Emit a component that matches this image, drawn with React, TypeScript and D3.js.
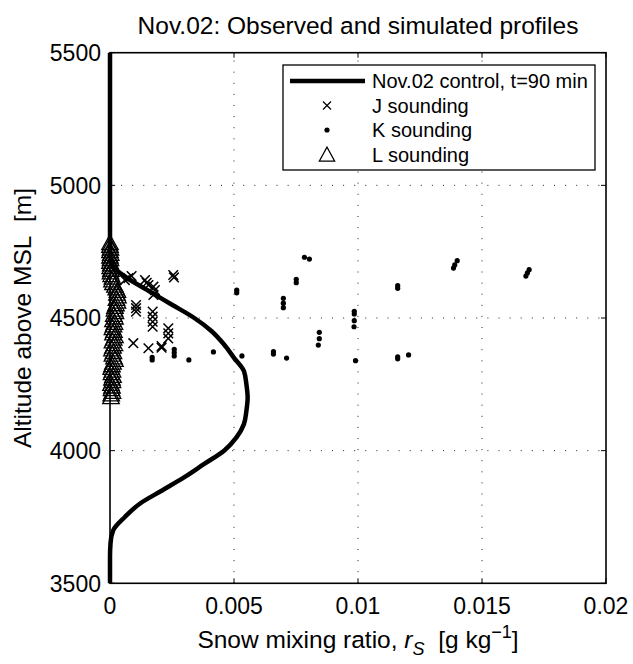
import React from "react";
import * as d3 from "d3";

// ---- data ----
const profileAlt = [3500, 3600, 3650, 3700, 3750, 3800, 3850, 3900, 3950, 4000, 4050, 4100, 4150, 4200, 4250, 4300, 4350, 4400, 4450, 4500, 4550, 4600, 4650, 4700, 4750, 5000, 5500];
const profileVal = [0, 0, 0.00002, 0.00013, 0.0006, 0.0012, 0.0021, 0.003, 0.0038, 0.0046, 0.0051, 0.0054, 0.0055, 0.00555, 0.0055, 0.0054, 0.005, 0.0046, 0.0041, 0.0034, 0.0025, 0.0016, 0.0007, 0.0001, 0, 0, 0];

const jX = [0.00255, 0.00258, 0.00074, 0.00087, 0.0006, 0.00141, 0.00148, 0.00155, 0.00175, 0.00181, 0.00175, 0.00105, 0.00105, 0.00105, 0.00172, 0.00172, 0.00172, 0.00172, 0.00235, 0.00235, 0.00235, 0.00094, 0.00155, 0.00208, 0.00208];
const jAlt = [4662, 4653, 4650, 4658, 4643, 4643, 4633, 4624, 4618, 4605, 4587, 4549, 4537, 4524, 4524, 4505, 4486, 4467, 4461, 4442, 4423, 4405, 4386, 4394, 4388];

const kX = [0.00511, 0.00511, 0.00699, 0.00699, 0.00699, 0.00751, 0.00751, 0.00784, 0.00804, 0.00844, 0.00844, 0.0084, 0.00985, 0.00985, 0.00985, 0.00984, 0.0116, 0.0116, 0.00417, 0.00532, 0.00659, 0.00659, 0.00712, 0.0099, 0.0116, 0.0116, 0.01204, 0.00318, 0.0017, 0.0017, 0.00259, 0.00259, 0.00259, 0.01385, 0.0139, 0.014, 0.01677, 0.01683, 0.0169];
const kAlt = [4595, 4605, 4574, 4556, 4539, 4646, 4633, 4729, 4722, 4446, 4422, 4398, 4525, 4515, 4490, 4467, 4622, 4612, 4372, 4357, 4373, 4364, 4349, 4339, 4354, 4346, 4361, 4342, 4352, 4342, 4382, 4370, 4357, 4688, 4700, 4716, 4658, 4670, 4682];

const lX = [0, 0, 0.00002, 0, 0.00003, 0, 0.00002, 0, 0.00003, 0.00001, 0.00004, 0.00002, 0.00005, 0.0001, 0.00008, 0.00012, 0.0002, 0.00025, 0.0003, 0.00028, 0.00032, 0.00026, 0.0003, 0.00024, 0.0002, 0.00018, 0.00022, 0.00015, 0.0002, 0.00012, 0.00018, 0.00014, 0.0001, 0.00016, 0.00012, 0.0002, 0.00015, 0.0001, 0.00018, 0.00012, 0.00008, 0.00014, 0.0001, 0.00016, 0.0002, 0.00012, 0.00008, 0.00005, 0.0001, 0.00006, 0.00012, 0.00008, 0.0001, 0.00004, 0.00008, 0.00006, 0.0001, 0.00005, 0.00004];
const lAlt = [4780, 4770, 4760, 4750, 4740, 4730, 4720, 4710, 4700, 4690, 4680, 4670, 4660, 4650, 4640, 4630, 4620, 4610, 4600, 4590, 4580, 4570, 4560, 4550, 4540, 4530, 4520, 4510, 4500, 4490, 4480, 4470, 4460, 4450, 4440, 4430, 4420, 4410, 4400, 4390, 4380, 4370, 4360, 4350, 4340, 4330, 4320, 4310, 4300, 4290, 4280, 4270, 4260, 4250, 4240, 4230, 4220, 4210, 4200];

const xTicks = [0, 0.005, 0.01, 0.015, 0.02];
const xTickLabels = ["0", "0.005", "0.01", "0.015", "0.02"];
const yTicks = [3500, 4000, 4500, 5000, 5500];
const yTickLabels = ["3500", "4000", "4500", "5000", "5500"];

const legendLabels = ["Nov.02 control, t=90 min", "J sounding", "K sounding", "L sounding"];
const titleText = "Nov.02: Observed and simulated profiles";

// ---- layout ----
const W = 633, H = 664;
const L = 110, R = 606, T = 52.7, B = 583.3;
const FONT = "'Liberation Sans', Arial, Helvetica, sans-serif";

export default function App() {
  const x = d3.scaleLinear().domain([0, 0.02]).range([L, R]);
  const y = d3.scaleLinear().domain([3500, 5500]).range([B, T]);

  const profile = profileAlt.map((a, i) => [profileVal[i], a] as [number, number]);
  const lineGen = d3.line<[number, number]>()
    .x(d => x(d[0]))
    .y(d => y(d[1]))
    .curve(d3.curveMonotoneY);

  const tri = (cx: number, cy: number, s: number) =>
    `M${cx},${cy - s * 0.6}L${cx + s * 0.55},${cy + s * 0.4}L${cx - s * 0.55},${cy + s * 0.4}Z`;
  const cross = (cx: number, cy: number, s: number) =>
    `M${cx - s},${cy - s}L${cx + s},${cy + s}M${cx - s},${cy + s}L${cx + s},${cy - s}`;

  const tickLen = 5;
  const legendRows = [81, 105.5, 130, 154.5];

  return (
    <div style={{ position: "absolute", left: 0, top: 0 }}>
      <svg width={W} height={H} style={{ display: "block", background: "#fff" }} fontFamily={FONT}>
        <rect x={0} y={0} width={W} height={H} fill="#fff" />
        {/* grid */}
        {xTicks.slice(1, -1).map((t, i) => (
          <line key={"gx" + i} x1={x(t)} x2={x(t)} y1={B} y2={T} stroke="#222" strokeWidth={1} strokeDasharray="1 10.1" />
        ))}
        {yTicks.slice(1, -1).map((t, i) => (
          <line key={"gy" + i} x1={L} x2={R} y1={y(t)} y2={y(t)} stroke="#222" strokeWidth={1} strokeDasharray="1 10.1" />
        ))}
        {/* ticks */}
        {xTicks.map((t, i) => (
          <g key={"tx" + i}>
            <line x1={x(t)} x2={x(t)} y1={B} y2={B - tickLen} stroke="#000" strokeWidth={1} />
            <line x1={x(t)} x2={x(t)} y1={T} y2={T + tickLen} stroke="#000" strokeWidth={1} />
            <text x={x(t)} y={614} textAnchor="middle" fontSize={23} fill="#000">{xTickLabels[i]}</text>
          </g>
        ))}
        {yTicks.map((t, i) => (
          <g key={"ty" + i}>
            <line x1={L} x2={L + tickLen} y1={y(t)} y2={y(t)} stroke="#000" strokeWidth={1} />
            <line x1={R} x2={R - tickLen} y1={y(t)} y2={y(t)} stroke="#000" strokeWidth={1} />
            <text x={101} y={y(t)} dy="0.36em" textAnchor="end" fontSize={23} fill="#000">{yTickLabels[i]}</text>
          </g>
        ))}
        {/* L sounding triangles */}
        {lX.map((v, i) => (
          <path key={"l" + i} d={tri(x(v), y(lAlt[i]), 15)} fill="none" stroke="#000" strokeWidth={1.3} />
        ))}
        {/* J sounding crosses */}
        {jX.map((v, i) => (
          <path key={"j" + i} d={cross(x(v), y(jAlt[i]), 4.8)} fill="none" stroke="#000" strokeWidth={1.5} />
        ))}
        {/* K sounding dots */}
        {kX.map((v, i) => (
          <circle key={"k" + i} cx={x(v)} cy={y(kAlt[i])} r={2.6} fill="#000" />
        ))}
        {/* simulated profile */}
        <path d={lineGen(profile) || ""} fill="none" stroke="#000" strokeWidth={4.5} strokeLinejoin="round" />
        {/* axes box */}
        <rect x={L} y={T} width={R - L} height={B - T} fill="none" stroke="#000" strokeWidth={1.6} />
        {/* legend */}
        <rect x={283} y={65} width={312} height={105} fill="#fff" stroke="#000" strokeWidth={1.3} />
        <line x1={290} x2={365} y1={legendRows[0]} y2={legendRows[0]} stroke="#000" strokeWidth={4.5} />
        <path d={cross(327, legendRows[1], 4)} stroke="#000" strokeWidth={1.2} fill="none" />
        <circle cx={327} cy={legendRows[2]} r={2.6} fill="#000" />
        <path d={tri(327, legendRows[3] + 1, 14)} stroke="#000" strokeWidth={1.2} fill="none" />
        {legendLabels.map((s, i) => (
          <text key={"lg" + i} x={372} y={legendRows[i]} dy="0.36em" fontSize={20} fill="#000">{s}</text>
        ))}
        {/* title */}
        <text x={(L + R) / 2} y={34} textAnchor="middle" fontSize={24.5} fill="#000">{titleText}</text>
        {/* x label */}
        <text x={(L + R) / 2} y={648} textAnchor="middle" fontSize={24.5} fill="#000">
          <tspan>Snow mixing ratio, </tspan>
          <tspan fontStyle="italic">r</tspan>
          <tspan fontStyle="italic" fontSize={18} dy={7}>S</tspan>
          <tspan dy={-7}>{"\u00a0\u00a0[g kg"}</tspan>
          <tspan fontSize={18} dy={-10}>{"\u22121"}</tspan>
          <tspan dy={10}>]</tspan>
        </text>
        {/* y label */}
        <text transform={`translate(31,${(T + B) / 2}) rotate(-90)`} textAnchor="middle" fontSize={24.5} fill="#000">
          {"Altitude above MSL\u00a0\u00a0[m]"}
        </text>
      </svg>
    </div>
  );
}
